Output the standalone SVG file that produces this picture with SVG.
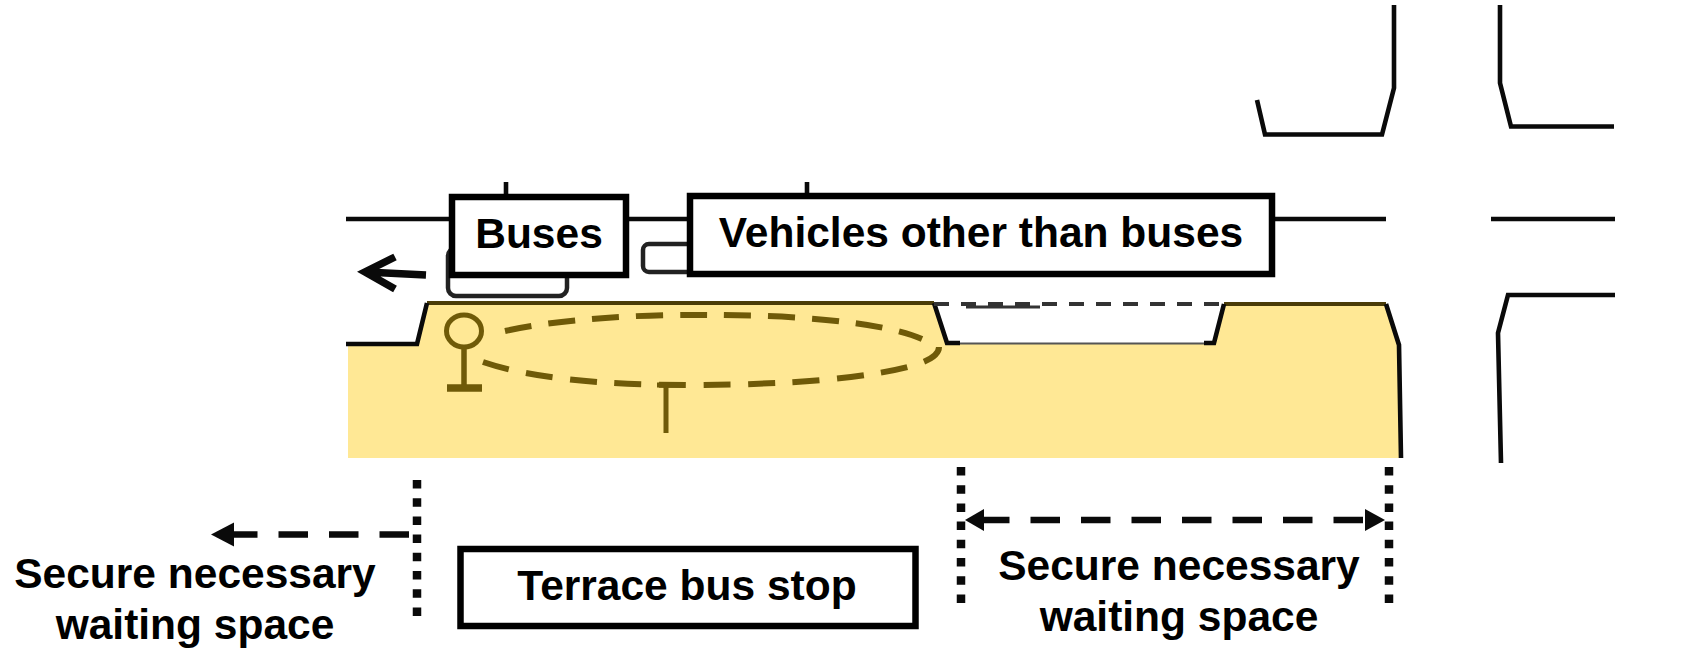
<svg xmlns="http://www.w3.org/2000/svg" width="1706" height="649" viewBox="0 0 1706 649">
  <style>
    .road { fill: none; stroke: #0a0a0a; stroke-width: 4.6; stroke-linejoin: miter; }
    .box { fill: #fff; stroke: #000; stroke-width: 6.5; }
    .veh { fill: #fff; stroke: #222; stroke-width: 4.5; }
    .lbl { font-family: "Liberation Sans", Arial, sans-serif; font-weight: 700; font-size: 42.5px; fill: #000; text-anchor: middle; }
    .olive { fill: none; stroke: #6f5a08; }
    .dots { fill: none; stroke: #0a0a0a; stroke-width: 8.500; stroke-dasharray: 8.500 9.700; }
    .dash { fill: none; stroke: #0a0a0a; stroke-width: 6.500; stroke-dasharray: 29.5 21; }
  </style>
  <rect width="1706" height="649" fill="#fff"/>

  <g id="ground">
    <path d="M348 344H417L427 303H934L947 344H1214L1224 304H1386L1400 345L1402 458H348Z" fill="#ffe895"/>
    <path d="M427 303H934" fill="none" stroke="#4a3c08" stroke-width="4"/>
    <path d="M1224 304H1386" fill="none" stroke="#4a3c08" stroke-width="4"/>
    <path d="M947 343.500H1214" fill="none" stroke="#555" stroke-width="2"/>
  </g>

  <g id="roads">
    <path class="road" d="M346 344H417L427 303"/>
    <path class="road" d="M934 303L947 343H960"/>
    <path class="road" d="M1204 343H1214L1224 304"/>
    <path class="road" d="M1386 304L1399 345L1401 458"/>
    <path class="road" d="M346 219H452"/>
    <path class="road" d="M626 219H690"/>
    <path class="road" d="M1272 219H1386"/>
    <path class="road" d="M1491 219H1615"/>
    <path class="road" d="M506 182V197"/>
    <path class="road" d="M807 182V196"/>
    <path class="road" d="M1394 5V88L1382 134.500H1265L1257 100"/>
    <path class="road" d="M1500 5V83L1511 126.500H1614"/>
    <path class="road" d="M1615 295H1508L1498 333L1501 463"/>
    <path d="M934 304H1224" fill="none" stroke="#333" stroke-width="4" stroke-dasharray="15 12"/>
    <path d="M966 307H1040" fill="none" stroke="#333" stroke-width="3"/>
  </g>

  <g id="bus-vehicle">
    <rect class="veh" x="448" y="248" width="119" height="48" rx="8"/>
  </g>
  <g id="other-vehicle">
    <rect class="veh" x="643" y="244" width="70" height="28" rx="6"/>
  </g>

  <g id="travel-arrow">
    <path d="M426 275L366 272M395 257L365 272L395 289" fill="none" stroke="#0a0a0a" stroke-width="7.500"/>
  </g>

  <g id="bus-stop-sign">
    <ellipse class="olive" cx="464" cy="331" rx="17.500" ry="16" stroke-width="5"/>
    <path class="olive" d="M464 347V388" stroke-width="5.500"/>
    <path class="olive" d="M447 388H482" stroke-width="7.500"/>
  </g>

  <g id="waiting-area">
    <path class="olive" d="M505 331C560 319 640 314 710 315C790 315 880 321 922 339" stroke-width="6" stroke-dasharray="27 17"/>
    <path class="olive" d="M483 362C530 378 600 385 690 385C790 385 870 378 915 365C930 360 939 355 939 347" stroke-width="6" stroke-dasharray="27 17.500"/>
    <path class="olive" d="M657 385H682M666 385V433" stroke-width="5"/>
  </g>

  <g id="label-buses">
    <rect class="box" x="452" y="197" width="174" height="78"/>
    <text class="lbl" x="539" y="248">Buses</text>
  </g>
  <g id="label-vehicles">
    <rect class="box" x="690" y="196" width="582" height="78"/>
    <text class="lbl" x="981" y="247">Vehicles other than buses</text>
  </g>
  <g id="label-terrace">
    <rect class="box" x="460.500" y="549" width="455" height="77"/>
    <text class="lbl" x="687" y="600">Terrace bus stop</text>
  </g>

  <g id="dimensions">
    <path class="dots" d="M417 480V618"/>
    <path class="dots" d="M961 467V605"/>
    <path class="dots" d="M1389 467V605"/>
    <path class="dash" d="M409 534.500H233"/>
    <path d="M211 534.500L234 522.500V546.500Z" fill="#0a0a0a"/>
    <path class="dash" d="M980 520H1370"/>
    <path d="M965 520L984 509V531Z" fill="#0a0a0a"/>
    <path d="M1385 520L1365 509V531Z" fill="#0a0a0a"/>
  </g>

  <g id="label-waiting-left">
    <text class="lbl" x="195" y="588">Secure necessary</text>
    <text class="lbl" x="195" y="639">waiting space</text>
  </g>
  <g id="label-waiting-right">
    <text class="lbl" x="1179" y="580">Secure necessary</text>
    <text class="lbl" x="1179" y="631">waiting space</text>
  </g>
</svg>
